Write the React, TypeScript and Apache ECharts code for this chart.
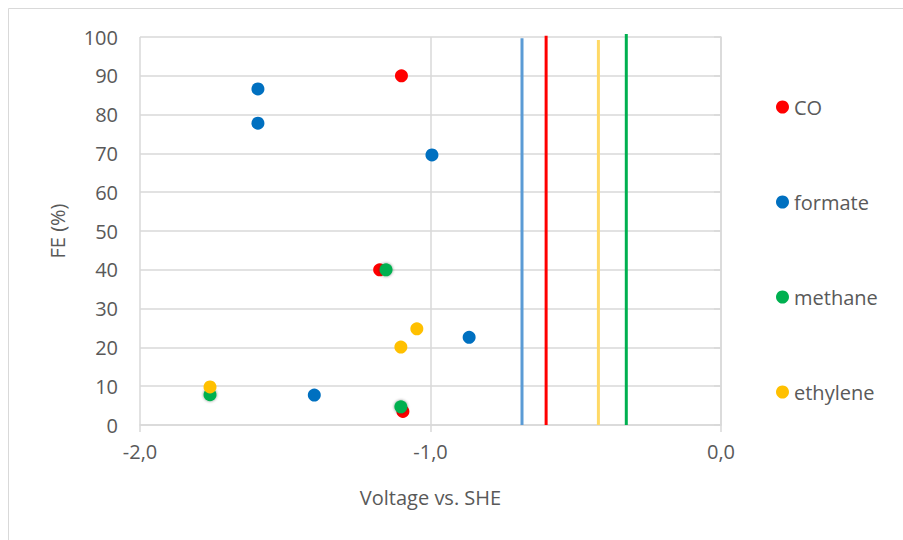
import React, { useEffect, useRef } from "react";
import * as echarts from "echarts";

const seriesNames = ["CO", "formate", "methane", "ethylene"];
const seriesColors = ["#FF0000", "#0070C0", "#00B050", "#FFC000"];

const coData: [number, number][] = [
  [-1.1, 90],
  [-1.175, 40],
  [-1.095, 3.5],
];
const formateData: [number, number][] = [
  [-1.594, 86.6],
  [-1.594, 77.8],
  [-0.995, 69.6],
  [-0.867, 22.6],
  [-1.4, 7.7],
];
const methaneData: [number, number][] = [
  [-1.153, 40],
  [-1.759, 7.8],
  [-1.102, 4.7],
];
const ethyleneData: [number, number][] = [
  [-1.759, 9.8],
  [-1.102, 20.1],
  [-1.047, 24.8],
];

// vertical reference lines: [x, top value]
const lineNames = ["formate line", "CO line", "ethylene line", "methane line"];
const lineX = [-0.685, -0.602, -0.422, -0.326];
const lineTop = [99.7, 100.3, 99.2, 100.8];
const lineColors = ["#5B9BD5", "#FF0000", "#FFD966", "#00B050"];

const xTicks = { min: -2, max: 0, interval: 1 };
const yTicks = { min: 0, max: 100, interval: 10 };

const FONT = "'Open Sans', 'Noto Sans', sans-serif";
const TXT = "#595959";
const GRID = "#D9D9D9";

export default function App() {
  const ref = useRef<HTMLDivElement>(null);
  useEffect(() => {
    if (!ref.current) return;
    const chart = echarts.init(ref.current, null, { renderer: "svg" });
    const scatterData = [coData, formateData, methaneData, ethyleneData];
    const series: any[] = [];
    lineX.forEach((x, i) => {
      series.push({
        name: lineNames[i],
        type: "line",
        data: [
          [x, 0],
          [x, lineTop[i]],
        ],
        showSymbol: false,
        symbol: "none",
        clip: false,
        lineStyle: { color: lineColors[i], width: 3 },
        itemStyle: { color: lineColors[i] },
        z: 2,
      });
    });
    seriesNames.forEach((n, i) => {
      series.push({
        name: n,
        type: "scatter",
        data: scatterData[i],
        symbol: "circle",
        symbolSize: 13,
        itemStyle:
          n === "methane"
            ? {
                color: seriesColors[i],
                opacity: 1,
                shadowBlur: 3,
                shadowColor: "rgba(0,0,0,0.45)",
              }
            : { color: seriesColors[i], opacity: 1 },
        z: 3,
      });
    });
    chart.setOption({
      animation: false,
      textStyle: { fontFamily: FONT },
      graphic: [
        {
          type: "rect",
          shape: { x: 8.5, y: 8.5, width: 1200, height: 1200 },
          style: { fill: "none", stroke: GRID, lineWidth: 1 },
          silent: true,
        },
      ],
      grid: { left: 140, top: 37, right: 182, bottom: 115 },
      legend: {
        orient: "vertical",
        left: 771,
        top: 92,
        data: seriesNames,
        icon: "circle",
        itemWidth: 13,
        itemHeight: 13,
        itemGap: 75,
        textStyle: {
          color: TXT,
          fontSize: 20,
          lineHeight: 20,
          fontFamily: FONT,
        },
        selectedMode: false,
      },
      xAxis: {
        type: "value",
        min: xTicks.min,
        max: xTicks.max,
        interval: xTicks.interval,
        name: "Voltage vs. SHE",
        nameLocation: "middle",
        nameGap: 62,
        nameTextStyle: { color: TXT, fontSize: 20, fontFamily: FONT },
        axisLine: { show: true, lineStyle: { color: GRID, width: 1.5 } },
        axisTick: { show: true, length: 7, lineStyle: { color: GRID, width: 1.5 } },
        axisLabel: {
          color: TXT,
          fontSize: 20,
          margin: 16,
          formatter: (v: number) => v.toFixed(1).replace(".", ","),
        },
        splitLine: { show: true, lineStyle: { color: GRID, width: 1.5 } },
      },
      yAxis: {
        type: "value",
        min: yTicks.min,
        max: yTicks.max,
        interval: yTicks.interval,
        name: "FE (%)",
        nameLocation: "middle",
        nameGap: 73,
        nameTextStyle: { color: TXT, fontSize: 20, fontFamily: FONT },
        axisLine: { show: true, lineStyle: { color: GRID, width: 1.5 } },
        axisTick: { show: true, length: 7, lineStyle: { color: GRID, width: 1.5 } },
        axisLabel: { color: TXT, fontSize: 20, margin: 22 },
        splitLine: { show: true, lineStyle: { color: GRID, width: 1.5 } },
      },
      series,
    });
    return () => chart.dispose();
  }, []);
  return (
    <div
      ref={ref}
      style={{
        position: "fixed",
        left: 0,
        top: 0,
        width: 903,
        height: 540,
        background: "#fff",
      }}
    />
  );
}
